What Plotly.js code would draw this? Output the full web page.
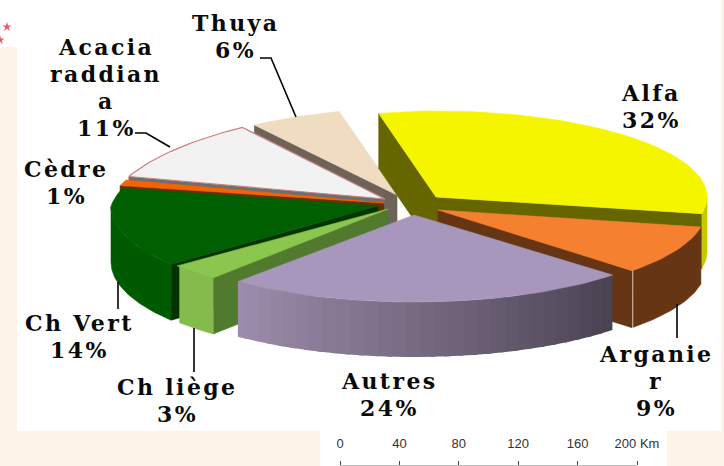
<!DOCTYPE html>
<html>
<head>
<meta charset="utf-8">
<script src="https://cdn.plot.ly/plotly-3.0.1.min.js"></script>
<style>
html,body{margin:0;padding:0;background:#fff;}
.annotation-text{letter-spacing:2.4px;}
</style>
</head>
<body>
<div id="chart" style="width:724px;height:466px;"></div>
<script>
// ---- data ----
const categories = ['Alfa','Arganier','Autres','Ch liège','Ch Vert','Cèdre','Acacia raddiana','Thuya'];
const values     = [32, 9, 24, 3, 14, 1, 11, 6];
const labelLines = [['Alfa'],['Arganie','r'],['Autres'],['Ch liège'],['Ch Vert'],['Cèdre'],['Acacia','raddian','a'],['Thuya']];
const scaleTicks = [0, 40, 80, 120, 160, 200];
const scaleLabels = ['0','40','80','120','160','200 Km'];

// ---- drawing geometry and styles ----
const startAngle = 346;
const backShrink = 0.13;
const apexX = [436,438,414,388,378,384,385,397];
const apexY = [197,210,215,209,206,203,199,195];
const radX  = [271,268,274,272,267,276,274,274];
const radY  = [ 86, 88, 87, 90, 92, 90, 88, 86];
const depth = [ 55, 57, 55, 56, 56, 12, 14, 55];
const topColor  = ['#f5f500','#f58030','#a897bc','#8bc64f','#005f00','#f56400','#f2f2f2','#f0dcc0'];
const edgeColor = ['#666600','#663513','#4a4356','#517a2f','#003300','#6b3000','#6e6e6e','#6e6358'];
const rimColor  = ['#c8c800','#663513',null,'#85bb4c','#005a00','#6b3000','#6e6e6e','#6e6358'];
const drawOrder = [7,6,5,4,3,0,1,2];
const labelX = [651,656,389,177,79,66,106,235];
const labelY = [106,381,394,400,336,182,87,36];
const lineStep = 27;

const rad = d => d*Math.PI/180;
function rimPoint(i,a){
  const s = Math.sin(rad(a)), c = Math.cos(rad(a));
  const k = (s<0 && c>0) ? 1 - backShrink*c : 1;
  return [apexX[i] + radX[i]*k*s, apexY[i] - radY[i]*c];
}
function mix(a,b,t){
  const p = h => [1,3,5].map(n=>parseInt(h.substr(n,2),16));
  const A=p(a),B=p(b);
  return 'rgb('+A.map((v,j)=>Math.round(v+(B[j]-v)*t)).join(',')+')';
}
const traces = [];
function poly(xs,ys,color,lineColor,lineWidth){
  traces.push({type:'scatter',mode:'lines',x:xs.concat([xs[0]]),y:ys.concat([ys[0]]),fill:'toself',
    fillcolor:color,line:{color:lineColor||color,width:lineWidth===undefined?0.6:lineWidth},
    hoverinfo:'skip',showlegend:false,xaxis:'x',yaxis:'y'});
}
const total = values.reduce((a,b)=>a+b,0);
const from = [], to = [];
let acc = startAngle;
values.forEach((v,i)=>{from[i]=acc; acc+=v/total*360; to[i]=acc;});

drawOrder.forEach(i=>{
  const a0=from[i], a1=to[i], d=depth[i];
  const norm = a => ((a%360)+360)%360;
  // radial walls facing the viewer
  const wall = a=>{
    const p=rimPoint(i,a);
    poly([apexX[i],p[0],p[0],apexX[i]],[apexY[i],p[1],p[1]+d,apexY[i]+d],edgeColor[i]);
  };
  if(norm(a0)>180) wall(a0);
  if(norm(a1)<180) wall(a1);
  // outer rim, front half only
  if(rimColor[i]===null){
    // shaded rim: overlapping strips, painted from one end to the other
    const step=3;
    for(let a=a0;a<a1;a+=step){
      const b=Math.min(a+step+1,a1), m=norm(a+step/2);
      const p=rimPoint(i,a), q=rimPoint(i,b);
      const col=mix('#48414f','#9c8cab',Math.min(1,Math.max(0,(m-133)/85)));
      traces.push({type:'scatter',mode:'lines',x:[p[0],q[0],q[0],p[0],p[0]],y:[p[1],q[1],q[1]+d,p[1]+d,p[1]],
        fill:'toself',fillcolor:col,line:{width:0,color:col},hoverinfo:'skip',showlegend:false});
    }
  } else {
    const up=[], low=[];
    for(let a=a0;a<=a1;a+=1){
      const m=norm(a);
      if(m<90||m>270) continue;
      const p=rimPoint(i,a);
      up.push(p); low.unshift([p[0],p[1]+d]);
    }
    if(up.length>1){
      const pts=up.concat(low);
      poly(pts.map(p=>p[0]),pts.map(p=>p[1]),rimColor[i]);
    }
  }
  // top face
  const xs=[apexX[i]], ys=[apexY[i]];
  for(let a=a0;;a+=2){
    const t=Math.min(a,a1), p=rimPoint(i,t);
    xs.push(p[0]); ys.push(p[1]);
    if(t>=a1) break;
  }
  if(categories[i]==='Acacia raddiana') poly(xs,ys,topColor[i],'#cc7f80',1.2);
  else poly(xs,ys,topColor[i]);
});

// small red marks at the top-left corner
traces.push({type:'scatter',mode:'markers',x:[7,0],y:[27,40],
  marker:{symbol:'star',size:7,color:'#e4606c'},hoverinfo:'skip',showlegend:false});
// carries the distance scale axis
traces.push({type:'scatter',mode:'markers',x:[0],y:[-20],xaxis:'x2',yaxis:'y',
  marker:{opacity:0},hoverinfo:'skip',showlegend:false});

const annotations = [];
categories.forEach((c,i)=>{
  const lines = labelLines[i].concat([values[i]+'%']);
  lines.forEach((t,j)=>annotations.push({
    x:labelX[i],y:labelY[i]+(j-(lines.length-1)/2)*lineStep,xref:'x',yref:'y',showarrow:false,
    xanchor:'center',yanchor:'middle',align:'center',text:t,
    font:{family:'"DejaVu Serif",serif',size:22,color:'#0a0a0a',weight:700}
  }));
});

const cream='#fdf3e7';
const rect=(x0,y0,x1,y1)=>({type:'rect',layer:'below',xref:'x',yref:'y',x0,y0,x1,y1,fillcolor:cream,line:{width:0}});
const path=(d)=>({type:'path',layer:'above',xref:'x',yref:'y',path:d,line:{color:'#000',width:1.6}});
const shapes=[
  rect(0,47,17,431),rect(0,431,320,466),rect(667,431,724,466),rect(721,0,724,466),
  path('M260,58 L271,58 L296,117'),
  path('M135,133 L146,133 L170,147'),
  path('M118,282 L118,309'),
  path('M194,328 L194,372'),
  path('M677,304 L677,338')
];

const layout={
  width:724,height:466,margin:{l:0,r:0,t:0,b:0},paper_bgcolor:'#fff',plot_bgcolor:'rgba(0,0,0,0)',
  showlegend:false,
  xaxis:{range:[0,724],domain:[0,1],visible:false,fixedrange:true},
  yaxis:{range:[466,0],domain:[0,1],visible:false,fixedrange:true},
  xaxis2:{anchor:'free',position:0.002,side:'top',domain:[340/724,637/724],range:[0,200],
    tickmode:'array',tickvals:scaleTicks,ticktext:scaleLabels,ticks:'outside',ticklen:4,tickcolor:'#444',tickwidth:1,
    showline:true,linecolor:'#bbbbbb',linewidth:1,showgrid:false,zeroline:false,fixedrange:true,
    ticklabelstandoff:8,tickangle:0,
    tickfont:{family:'"Liberation Sans",Arial,sans-serif',size:13,color:'#333'}},
  annotations,shapes
};
Plotly.newPlot('chart',traces,layout,{displayModeBar:false,staticPlot:true});
</script>
</body>
</html>
